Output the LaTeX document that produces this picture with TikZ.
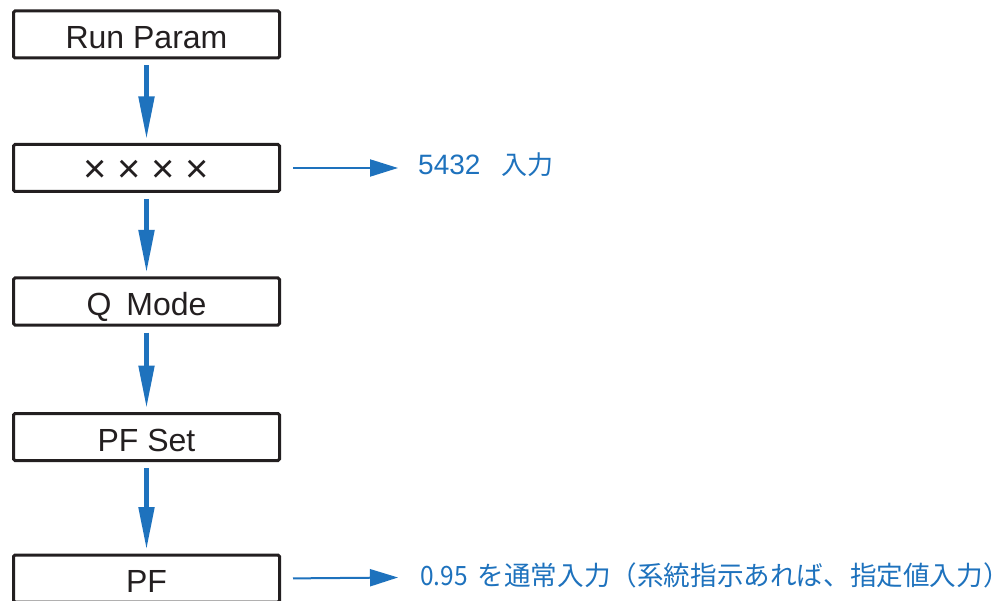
\documentclass[tikz,border=0pt]{standalone}
\usepackage{fontspec}
\setmainfont{Liberation Sans}
\newfontfamily\jpfont{Noto Sans CJK JP}
\usetikzlibrary{arrows.meta}
\definecolor{flowblue}{RGB}{30,114,189}
\definecolor{boxblack}{RGB}{35,31,32}
\begin{document}
\begin{tikzpicture}[x=1pt,y=-1pt,
  box/.style={draw=boxblack, line width=3pt, rounded corners=1.5pt,
    minimum width=266pt, minimum height=47pt, inner sep=0pt,
    text height=28.5pt, text depth=0pt, text=boxblack,
    font=\fontsize{32}{32}\selectfont},
  downarrow/.style={draw=flowblue, line width=5pt,
    -{Triangle[width=15pt,length=43pt]}, shorten <=6pt, shorten >=3.5pt},
  sidearrow/.style={draw=flowblue, line width=2pt,
    -{Triangle[width=17pt,length=28pt]}, shorten <=12pt},
  note/.style={anchor=base west, text=flowblue, inner sep=0pt}
]
\useasboundingbox (0,0) rectangle (1008,601);
\clip (0,0) rectangle (1008,601);

\node[box] (b1) at (146.5,34.5) {Run Param};
\node[box, text height=30pt, font=\fontsize{40}{40}\selectfont] (b2) at (146.5,168) {\makebox[34pt]{×}\makebox[34pt]{×}\makebox[34pt]{×}\makebox[34pt]{×}};
\node[box] (b3) at (146.5,301.5) {Q\hspace{15pt}Mode};
\node[box] (b4) at (146.5,437) {PF Set};
\node[box] (b5) at (146.5,578.5) {PF};

\draw[downarrow] (b1) -- (b2);
\draw[downarrow] (b2) -- (b3);
\draw[downarrow] (b3) -- (b4);
\draw[downarrow] (b4) -- (b5);

\coordinate (e1) at (398,168);
\coordinate (e2) at (398,577.5);
\draw[sidearrow] (b2.east) -- (e1);
\draw[sidearrow] (b5.east) -- (e2);

\node[note, font=\fontsize{28}{28}\selectfont] (t1) at (418,175) {5432\hspace{21pt}{\jpfont\fontsize{26}{26}\selectfont 入力}};
\node[note, font=\jpfont\fontsize{26.6}{26.6}\selectfont] (t2) at (420,585) {\scalebox{0.92}[1]{0.95}\hspace{10pt}を通常入力（系統指示あれば、指定値入力）};
\end{tikzpicture}
\end{document}
